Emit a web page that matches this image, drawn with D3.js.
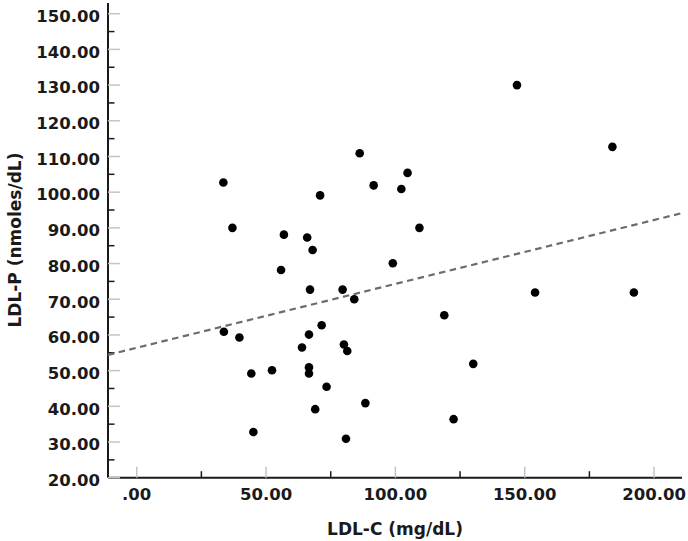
<!DOCTYPE html>
<html>
<head>
<meta charset="utf-8">
<script src="https://cdn.jsdelivr.net/npm/d3@7"></script>
<style>
  html, body { margin: 0; padding: 0; background: #fff; }
  svg { display: block; }
  text { font-family: "DejaVu Sans", sans-serif; font-weight: bold; fill: #1a1a1a; }
</style>
</head>
<body>
<svg id="chart" width="688" height="541"></svg>
<script>
// ---- Data ----
const ldlC = [33.5, 37.0, 33.7, 39.7, 44.3, 45.1, 52.3, 55.8, 56.9, 65.9,
              68.0, 70.9, 67.0, 66.6, 63.9, 66.6, 66.6, 71.5, 73.4, 69.0,
              79.6, 84.1, 80.1, 81.4, 80.9, 88.4, 86.2, 91.6, 102.3, 104.7,
              109.3, 99.0, 118.9, 122.5, 130.1, 147.0, 154.0, 183.9, 192.2];
const ldlP = [102.7, 90.0, 60.9, 59.3, 49.2, 32.8, 50.1, 78.2, 88.1, 87.3,
              83.8, 99.1, 72.7, 60.1, 56.5, 50.9, 49.2, 62.7, 45.5, 39.2,
              72.7, 70.0, 57.3, 55.5, 30.9, 40.9, 110.9, 101.9, 100.9, 105.4,
              90.0, 80.1, 65.5, 36.4, 51.9, 130.0, 71.9, 112.7, 71.9];

// fit line
const fitIntercept = 56.4;
const fitSlope = 0.179;

const xMajorTicks = [0, 50, 100, 150, 200];
const xMinorTicks = [25, 75, 125, 175];
const yMajorTicks = [20, 30, 40, 50, 60, 70, 80, 90, 100, 110, 120, 130, 140, 150];
const yMinorTicks = [25, 35, 45, 55, 65, 75, 85, 95, 105, 115, 125, 135, 145];

const xTitle = "LDL-C (mg/dL)";
const yTitle = "LDL-P (nmoles/dL)";

// ---- Layout ----
const xDomain = [-11.1, 210.8];
const yDomain = [20, 153];
const padL = 108, padR = 682, padB = 477.7, padT = 3;

const svg = d3.select("#chart");
const x = d3.scaleLinear().domain(xDomain).range([padL, padR]);
const y = d3.scaleLinear().domain(yDomain).range([padB, padT]);

const fmt = v => {
  const s = d3.format(".2f")(v);
  return s.startsWith("0.") ? s.slice(1) : s;
};

// axis lines
svg.append("line").attr("x1", padL).attr("x2", padR).attr("y1", padB).attr("y2", padB)
  .attr("stroke", "#1a1a1a").attr("stroke-width", 2);
svg.append("line").attr("x1", padL).attr("x2", padL).attr("y1", padT).attr("y2", padB)
  .attr("stroke", "#1a1a1a").attr("stroke-width", 2);

// minor ticks (dark, short, inward)
svg.selectAll(".xminor").data(xMinorTicks).enter().append("line")
  .attr("x1", d => x(d)).attr("x2", d => x(d))
  .attr("y1", padB).attr("y2", padB - 6.5)
  .attr("stroke", "#1a1a1a").attr("stroke-width", 1.5);
svg.selectAll(".yminor").data(yMinorTicks).enter().append("line")
  .attr("y1", d => y(d)).attr("y2", d => y(d))
  .attr("x1", padL).attr("x2", padL + 6.5)
  .attr("stroke", "#1a1a1a").attr("stroke-width", 1.5);

// major ticks (light gray, longer, inward)
svg.selectAll(".xmajor").data(xMajorTicks).enter().append("line")
  .attr("x1", d => x(d)).attr("x2", d => x(d))
  .attr("y1", padB).attr("y2", padB - 11)
  .attr("stroke", "#c4c4c4").attr("stroke-width", 1.5);
svg.selectAll(".ymajor").data(yMajorTicks).enter().append("line")
  .attr("y1", d => y(d)).attr("y2", d => y(d))
  .attr("x1", padL).attr("x2", padL + 12)
  .attr("stroke", "#c4c4c4").attr("stroke-width", 1.5);

// tick labels
svg.selectAll(".xlab").data(xMajorTicks).enter().append("text")
  .attr("x", d => x(d)).attr("y", 500)
  .attr("text-anchor", "middle").attr("font-size", 16.5)
  .text(fmt);
svg.selectAll(".ylab").data(yMajorTicks).enter().append("text")
  .attr("x", 100).attr("y", d => y(d) + 8.3)
  .attr("text-anchor", "end").attr("font-size", 16.5)
  .text(fmt);

// axis titles
svg.append("text").attr("x", 395).attr("y", 535)
  .attr("text-anchor", "middle").attr("font-size", 17).text(xTitle);
svg.append("text").attr("transform", "translate(21,240) rotate(-90)")
  .attr("text-anchor", "middle").attr("font-size", 17).text(yTitle);

// fit line
svg.append("line")
  .attr("x1", x(xDomain[0])).attr("y1", y(fitIntercept + fitSlope * xDomain[0]))
  .attr("x2", x(xDomain[1])).attr("y2", y(fitIntercept + fitSlope * xDomain[1]))
  .attr("stroke", "#6a6e6b").attr("stroke-width", 2.2)
  .attr("stroke-dasharray", "6.5,4.5");

// points
const pts = ldlC.map((v, i) => ({ x: v, y: ldlP[i] }));
svg.selectAll(".pt").data(pts).enter().append("circle")
  .attr("cx", d => x(d.x)).attr("cy", d => y(d.y)).attr("r", 4.3)
  .attr("fill", "#000");
</script>
</body>
</html>
